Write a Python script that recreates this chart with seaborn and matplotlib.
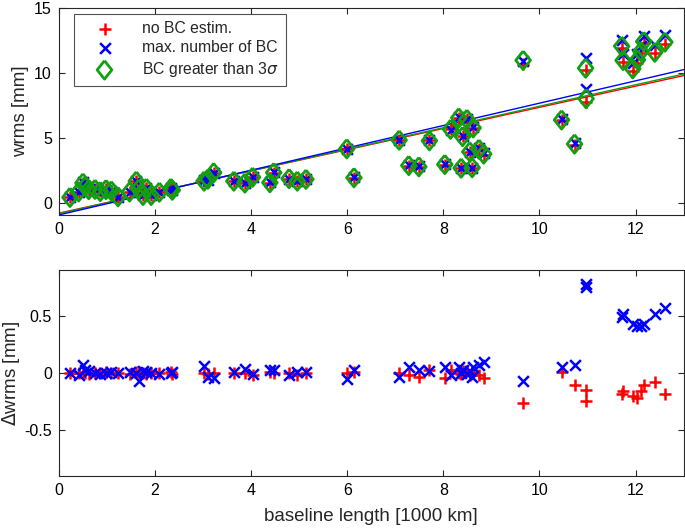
import matplotlib
matplotlib.use("Agg")
import matplotlib.pyplot as plt
import numpy as np
import pandas as pd
import seaborn as sns

# baseline lengths [1000 km]
baseline = [0.23, 0.41, 0.50, 0.55, 0.62, 0.75, 0.86, 0.98, 1.09, 1.23, 1.47, 1.61, 1.66, 1.75,
            1.82, 1.92, 2.09, 2.33, 2.36,
            3.02, 3.10, 3.22, 3.64, 3.87, 4.03, 4.39, 4.47, 4.79, 4.96, 5.14, 5.99, 6.14,
            7.08, 7.28, 7.49, 7.71, 8.03, 8.15, 8.32, 8.37, 8.40, 8.49, 8.55, 8.60, 8.62, 8.74, 8.84,
            9.66, 10.46, 10.73, 10.96, 10.97, 11.71, 11.74, 11.94, 12.04, 12.11, 12.17, 12.40, 12.61]

# wrms [mm] with BC greater than 3 sigma
wrms_3sig = [0.45, 0.87, 1.55, 1.30, 1.05, 1.07, 0.90, 1.05, 0.95, 0.50, 0.87, 1.70, 1.10, 0.60,
             1.15, 0.60, 0.85, 1.15, 1.00,
             1.70, 1.85, 2.35, 1.70, 1.55, 2.00, 1.58, 2.35, 1.89, 1.70, 1.84, 4.18, 1.96,
             4.85, 2.90, 2.80, 4.80, 2.98, 5.68, 6.56, 2.70, 5.12, 6.45, 3.95, 2.73, 5.79, 4.15, 3.78,
             10.98, 6.40, 4.55, 10.38, 8.03, 12.07, 10.97, 10.33, 11.02, 11.66, 12.43, 11.60, 12.38]

# delta wrms [mm]: no BC estimated, max. number of BC
d_nobc = [0.00, 0.00, 0.01, 0.00, -0.01, 0.00, 0.00, 0.01, 0.00, 0.00, -0.01, 0.01, 0.00, 0.00,
          -0.01, 0.00, 0.00, 0.01, -0.01,
          0.00, -0.01, 0.00, 0.00, 0.00, -0.02, 0.01, 0.00, 0.00, -0.02, 0.00, 0.00, 0.01,
          0.00, -0.02, -0.03, 0.03, -0.04, 0.03, 0.00, -0.01, 0.02, 0.02, -0.02, 0.01, 0.00, -0.02, -0.04,
          -0.26, 0.01, -0.10, -0.15, -0.24, -0.18, -0.155, -0.20, -0.22, -0.155, -0.105, -0.076, -0.18]
d_max = [0.00, -0.02, 0.07, 0.03, 0.02, 0.00, -0.01, 0.00, 0.01, 0.00, 0.01, 0.00, -0.07, 0.02,
         0.01, 0.00, -0.01, 0.00, 0.01,
         0.06, -0.03, -0.04, 0.01, 0.04, -0.01, 0.03, 0.03, -0.02, 0.01, 0.01, -0.05, 0.03,
         -0.03, 0.05, 0.03, 0.02, 0.05, -0.02, 0.05, 0.00, 0.03, -0.01, 0.02, -0.03, 0.05, 0.07, 0.10,
         -0.07, 0.05, 0.076, 0.78, 0.75, 0.49, 0.52, 0.43, 0.41, 0.41, 0.43, 0.52, 0.57]

df = pd.DataFrame({"baseline": baseline, "green": wrms_3sig, "d_red": d_nobc, "d_blue": d_max})
df["red"] = df["green"] + df["d_red"]
df["blue"] = df["green"] + df["d_blue"]

RED = "#ff0000"
BLUE = "#0000ff"
GREEN = "#10a010"
AX_COLOR = "#262626"
# matlab-like diamond, a bit taller than wide
DIAMOND = [(0, 1), (0.8, 0), (0, -1), (-0.8, 0), (0, 1)]

sns.set_style("ticks")
plt.rcParams["font.family"] = ["Liberation Sans", "DejaVu Sans"]
plt.rcParams["mathtext.fontset"] = "dejavusans"
plt.rcParams["axes.edgecolor"] = AX_COLOR
plt.rcParams["xtick.color"] = AX_COLOR
plt.rcParams["ytick.color"] = AX_COLOR

fig = plt.figure(figsize=(6.85, 5.32), dpi=100)
ax1 = fig.add_axes([0.086, 0.596, 0.912, 0.389])
ax2 = fig.add_axes([0.086, 0.105, 0.912, 0.387])

for ax in (ax1, ax2):
    ax.set_xlim(0, 13)

# top panel: wrms with linear fits
sns.scatterplot(data=df, x="baseline", y="red", marker="+", s=85, color=RED, linewidth=1.8,
                ax=ax1, label="no BC estim.", zorder=3)
sns.scatterplot(data=df, x="baseline", y="blue", marker="x", s=60, color=BLUE, linewidth=1.8,
                ax=ax1, label="max. number of BC", zorder=3)
sns.scatterplot(data=df, x="baseline", y="green", marker=DIAMOND, s=175, facecolors="none",
                edgecolors=GREEN, linewidth=2.0, ax=ax1, label=r"BC greater than 3$\sigma$", zorder=4)
for col, c in (("red", RED), ("green", GREEN), ("blue", BLUE)):
    sns.regplot(data=df, x="baseline", y=col, scatter=False, ci=None, truncate=False,
                color=c, line_kws={"linewidth": 1.0, "zorder": 2}, ax=ax1)

ax1.set_ylim(-0.9, 15)
ax1.set_yticks([0, 5, 10, 15])
ax1.set_xticks(range(0, 13, 2))
ax1.set_xlabel("")
ax1.set_ylabel("wrms [mm]", fontsize=13.5, labelpad=4)
leg = ax1.legend(loc="upper left", bbox_to_anchor=(0.024, 0.973), fontsize=11.3, frameon=True,
                 fancybox=False, edgecolor=AX_COLOR, handlelength=3.0, handletextpad=0.9,
                 borderpad=0.45, labelspacing=0.3, borderaxespad=0.0)
leg.get_frame().set_linewidth(0.8)

# bottom panel: delta wrms
sns.scatterplot(data=df, x="baseline", y="d_red", marker="+", s=85, color=RED, linewidth=1.8,
                ax=ax2, zorder=3)
sns.scatterplot(data=df, x="baseline", y="d_blue", marker="x", s=60, color=BLUE, linewidth=1.8,
                ax=ax2, zorder=3)
ax2.set_ylim(-0.9, 0.9)
ax2.set_yticks([-0.5, 0, 0.5])
ax2.set_yticklabels(["-0.5", "0", "0.5"])
ax2.set_xticks(range(0, 13, 2))
ax2.set_xlabel("baseline length [1000 km]", fontsize=13.5, labelpad=7)
ax2.set_ylabel(r"$\Delta$wrms [mm]", fontsize=13.5, labelpad=2)

for ax in (ax1, ax2):
    for sp in ax.spines.values():
        sp.set_visible(True)
        sp.set_linewidth(0.8)
    ax.tick_params(direction="in", top=True, right=True, length=4, width=0.8,
                   labelsize=11.5, labelcolor="black", pad=5)

fig.savefig("out.png", dpi=100)
